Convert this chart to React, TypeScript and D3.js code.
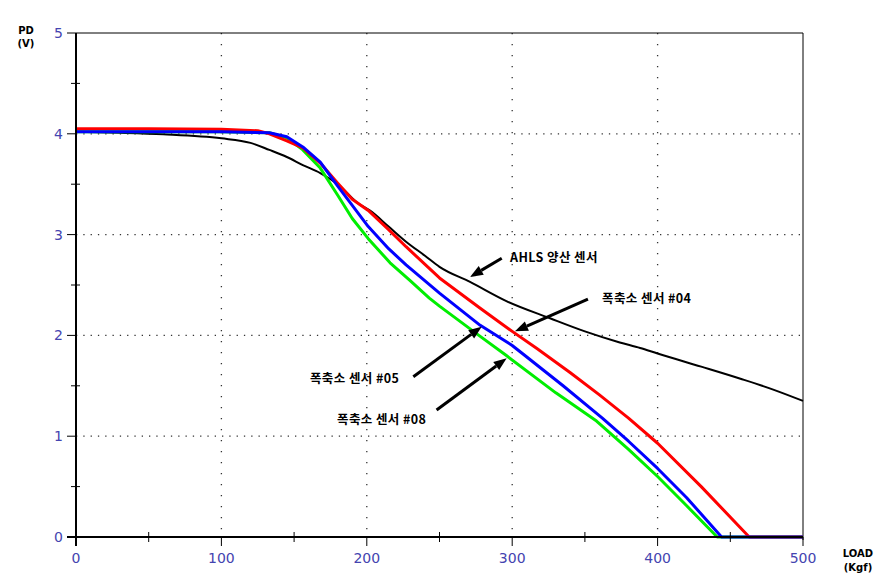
import React from 'react';
import * as d3 from 'd3';

const W = 885;
const H = 579;

const xTicks = [0, 100, 200, 300, 400, 500];
const yTicks = [0, 1, 2, 3, 4, 5];
const xMinor = [50, 150, 250, 350, 450];
const yMinor = [0.5, 1.5, 2.5, 3.5, 4.5];
const xGrid = [100, 200, 300, 400];
const yGrid = [1, 2, 3, 4];

const blackLoad = [0, 30, 60, 100, 120, 133, 145, 156, 168, 180, 195, 202, 215, 227, 240, 250, 271, 296, 326, 350, 374, 388, 400, 430, 457, 480, 500];
const blackPD = [4.02, 4.01, 3.995, 3.955, 3.91, 3.84, 3.77, 3.69, 3.61, 3.5, 3.3, 3.24, 3.08, 2.93, 2.79, 2.68, 2.53, 2.34, 2.17, 2.04, 1.93, 1.875, 1.82, 1.69, 1.57, 1.46, 1.35];

const redLoad = [0, 50, 100, 125, 133, 145, 156, 168, 180, 190, 201, 215, 227, 250, 278, 300, 317, 340, 360, 380, 400, 430, 463, 500];
const redPD = [4.05, 4.05, 4.045, 4.03, 4.0, 3.93, 3.86, 3.71, 3.51, 3.35, 3.24, 3.05, 2.88, 2.57, 2.27, 2.04, 1.87, 1.63, 1.41, 1.18, 0.93, 0.5, 0, 0];

const blueLoad = [0, 50, 100, 133, 145, 156, 168, 180, 190, 201, 215, 227, 250, 278, 300, 307, 335, 362, 380, 400, 420, 444, 500];
const bluePD = [4.02, 4.02, 4.02, 4.01, 3.97, 3.87, 3.72, 3.48, 3.29, 3.08, 2.86, 2.7, 2.42, 2.1, 1.9, 1.82, 1.5, 1.18, 0.95, 0.68, 0.39, 0, 0];

const greenLoad = [0, 50, 100, 133, 145, 156, 168, 180, 190, 201, 216, 230, 243, 250, 278, 296, 330, 358, 380, 400, 420, 441, 500];
const greenPD = [4.02, 4.02, 4.02, 4.01, 3.96, 3.84, 3.66, 3.39, 3.16, 2.96, 2.72, 2.54, 2.37, 2.29, 1.99, 1.8, 1.43, 1.15, 0.87, 0.6, 0.31, 0, 0];

const annLabels = ['AHLS 양산 센서', '폭축소 센서 #04', '폭축소 센서 #05', '폭축소 센서 #08'];
const annTextX = [298.5, 361.8, 160.9, 179.5];
const annTextY = [2.78, 2.38, 1.58, 1.18];
const annTailX = [292.8, 352.1, 232, 248];
const annTailY = [2.765, 2.36, 1.59, 1.26];
const annTipX = [271, 301.9, 279, 296.2];
const annTipY = [2.58, 2.04, 2.086, 1.773];

const series = [
  { load: blackLoad, pd: blackPD, color: '#000000', width: 2, smooth: true },
  { load: greenLoad, pd: greenPD, color: '#00ee00', width: 3, smooth: false },
  { load: redLoad, pd: redPD, color: '#ff0000', width: 3, smooth: false },
  { load: blueLoad, pd: bluePD, color: '#0000ff', width: 3, smooth: false },
];

export default function App() {
  const left = 76, right = 803, top = 33, bottom = 537;
  const x = d3.scaleLinear().domain([0, 500]).range([left, right]);
  const y = d3.scaleLinear().domain([0, 5]).range([bottom, top]);
  const tickColor = '#4444b0';
  const tickFont = 'DejaVu Sans, Verdana, sans-serif';

  const lineGen = (load: number[], pd: number[], smooth: boolean) =>
    d3
      .line<number>()
      .x((_, i) => x(load[i]))
      .y((_, i) => y(pd[i]))
      .curve(smooth ? d3.curveMonotoneX : d3.curveLinear)(pd.map((v) => v)) || '';

  const arrowHead = (x1: number, y1: number, x2: number, y2: number) => {
    const ang = Math.atan2(y2 - y1, x2 - x1);
    const len = 13, half = 5;
    const bx = x2 - len * Math.cos(ang), by = y2 - len * Math.sin(ang);
    const px = -Math.sin(ang) * half, py = Math.cos(ang) * half;
    return { pts: `${x2},${y2} ${bx + px},${by + py} ${bx - px},${by - py}`, bx, by };
  };

  return (
    <svg width={W} height={H} style={{ position: 'absolute', left: 0, top: 0, background: '#fff' }}>
      <rect x={0} y={0} width={W} height={H} fill="#fff" />
      {xGrid.map((v) => (
        <line key={'gx' + v} x1={x(v)} x2={x(v)} y1={top} y2={bottom} stroke="#333" strokeWidth={1.3} strokeDasharray="1.3 9.7" />
      ))}
      {yGrid.map((v) => (
        <line key={'gy' + v} x1={left} x2={right} y1={y(v)} y2={y(v)} stroke="#333" strokeWidth={1.3} strokeDasharray="1.3 6" />
      ))}
      <line x1={left} x2={right} y1={top} y2={top} stroke="#000" strokeWidth={1} />
      <line x1={right} x2={right} y1={top} y2={bottom + 3} stroke="#000" strokeWidth={1} />
      {series.map((s, i) => (
        <path key={i} d={lineGen(s.load, s.pd, s.smooth)} fill="none" stroke={s.color} strokeWidth={s.width} strokeLinejoin="round" />
      ))}
      <line x1={left} x2={left} y1={top} y2={bottom + 9} stroke="#000" strokeWidth={2} />
      <line x1={left - 9} x2={right} y1={bottom} y2={bottom} stroke="#000" strokeWidth={2} />
      {yTicks.map((v) => (
        <line key={'yt' + v} x1={left - 9} x2={left} y1={y(v)} y2={y(v)} stroke="#000" strokeWidth={1} />
      ))}
      {yMinor.map((v) => (
        <line key={'ym' + v} x1={left - 5} x2={left + 4} y1={y(v)} y2={y(v)} stroke="#000" strokeWidth={1} />
      ))}
      {xTicks.map((v) => (
        <line key={'xt' + v} x1={x(v)} x2={x(v)} y1={bottom} y2={bottom + 9} stroke="#000" strokeWidth={1} />
      ))}
      {xMinor.map((v) => (
        <line key={'xm' + v} x1={x(v)} x2={x(v)} y1={bottom - 5} y2={bottom + 5} stroke="#000" strokeWidth={1} />
      ))}
      {yTicks.map((v) => (
        <text key={'yl' + v} x={left - 13} y={y(v)} textAnchor="end" dominantBaseline="central" fontFamily={tickFont} fontSize={14} fill={tickColor}>
          {v}
        </text>
      ))}
      {xTicks.map((v) => (
        <text key={'xl' + v} x={x(v)} y={bottom + 21} textAnchor="middle" dominantBaseline="central" fontFamily={tickFont} fontSize={14} fill={tickColor}>
          {v}
        </text>
      ))}
      <text x={26} y={30} textAnchor="middle" dominantBaseline="central" fontFamily={tickFont} fontWeight="bold" fontSize={10} fill="#000">PD</text>
      <text x={26} y={43} textAnchor="middle" dominantBaseline="central" fontFamily={tickFont} fontWeight="bold" fontSize={10} fill="#000">(V)</text>
      <text x={858} y={553} textAnchor="middle" dominantBaseline="central" fontFamily={tickFont} fontWeight="bold" fontSize={10} fill="#000">LOAD</text>
      <text x={858} y={567} textAnchor="middle" dominantBaseline="central" fontFamily={tickFont} fontWeight="bold" fontSize={10} fill="#000">(Kgf)</text>
      {annLabels.map((t, i) => {
        const x1 = x(annTailX[i]), y1 = y(annTailY[i]), x2 = x(annTipX[i]), y2 = y(annTipY[i]);
        const h = arrowHead(x1, y1, x2, y2);
        return (
          <g key={'a' + i}>
            <line x1={x1} y1={y1} x2={h.bx} y2={h.by} stroke="#000" strokeWidth={3} />
            <polygon points={h.pts} fill="#000" />
            <text x={x(annTextX[i])} y={y(annTextY[i])} dominantBaseline="central" fontFamily="'Noto Sans CJK KR', sans-serif" fontWeight="bold" fontSize={12.5} letterSpacing={0.4} fill="#000">
              {t}
            </text>
          </g>
        );
      })}
    </svg>
  );
}
